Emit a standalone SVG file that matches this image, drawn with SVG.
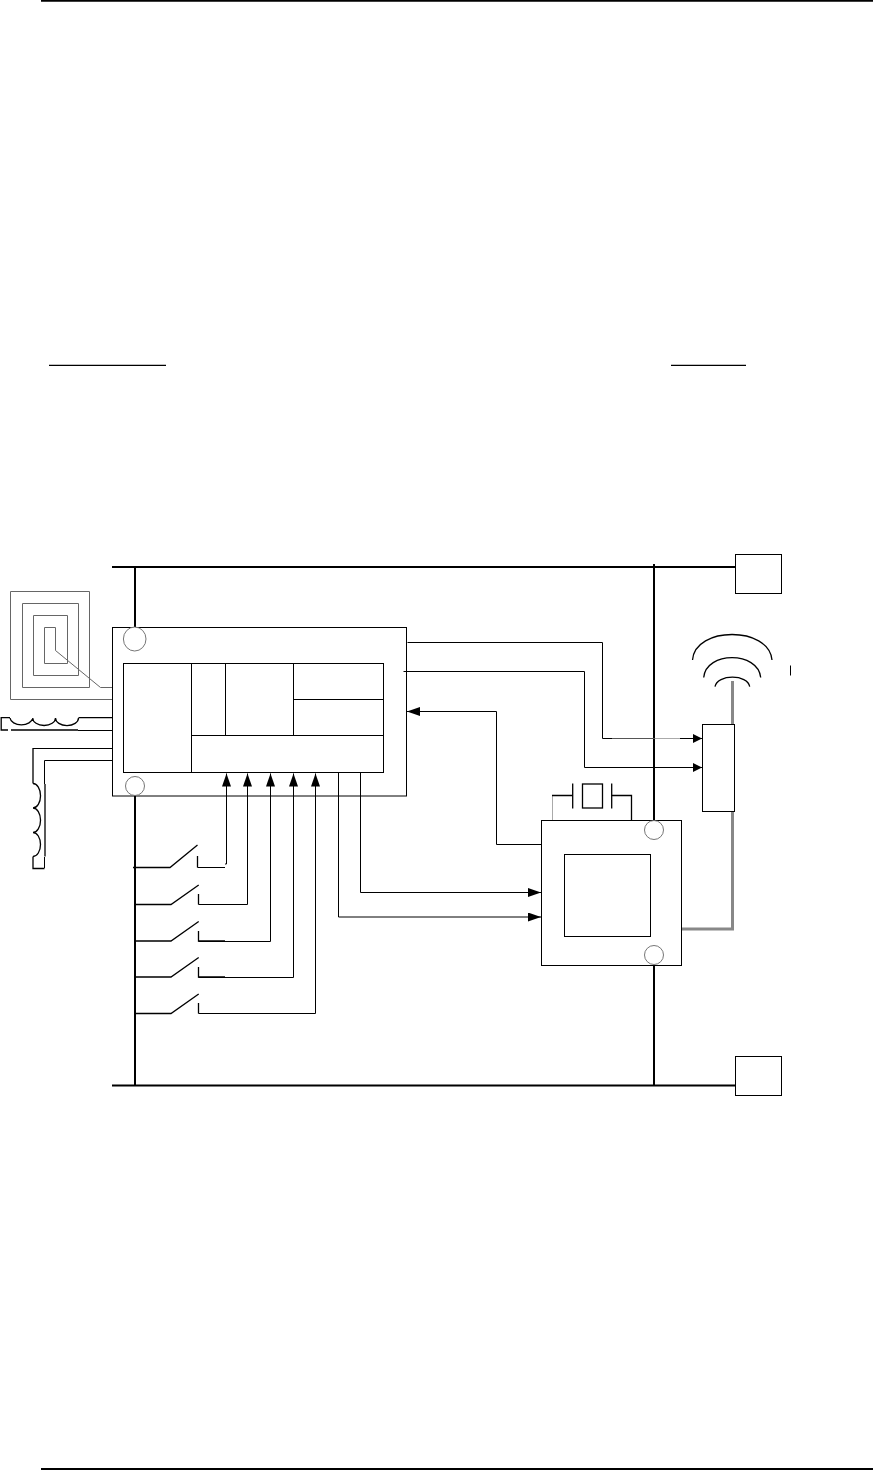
<svg xmlns="http://www.w3.org/2000/svg" width="878" height="1470" viewBox="0 0 878 1470">
<style>
.n{fill:none;stroke:#000;stroke-width:1}
.m{fill:none;stroke:#000;stroke-width:1.3}
.b{fill:none;stroke:#000;stroke-width:2}
.c{fill:#fff;stroke:#666;stroke-width:.9}
.g{fill:none;stroke:#888;stroke-width:3}
.s{fill:none;stroke:#666;stroke-width:1}
.al{marker-end:url(#al)}
.as{marker-end:url(#as)}
</style>
<defs>
<marker id="al" markerUnits="userSpaceOnUse" markerWidth="14" markerHeight="10" refX="13" refY="4.5" orient="auto"><path d="M0 0L13 4.5L0 9Z" fill="#000"/></marker>
<marker id="as" markerUnits="userSpaceOnUse" markerWidth="10" markerHeight="10" refX="9" refY="4.5" orient="auto"><path d="M0 0L9 4.5L0 9Z" fill="#000"/></marker>
</defs>
<rect width="878" height="1470" fill="#fff"/>
<g id="page-rules">
<path class="b" d="M41 .7H873M41 1469H873"/>
<path class="m" d="M49 365.3H166M671 365.3H746"/>
</g>
<g id="connectors">
<path class="b" d="M112 567H735M112 1085.5H735M135 566V628M135 796V1085.5M654 564V820M654 965V1085.5"/>
<path class="n al" d="M226.5 864V773.5"/>
<path class="n al" d="M247.5 904.5V773.5"/>
<path class="n al" d="M270.5 941.5V773.5"/>
<path class="n al" d="M293.5 977.5V773.5"/>
<path class="n al" d="M315.5 1013.5V773.5"/>
<path class="n" d="M197.5 867.5H225M225 864H226.5"/>
<path class="n" d="M198.5 904.5H247.5M198.5 941.5H270.5M198.5 977.5H293.5M198.5 1013.5H315.5"/>
<path class="n al" d="M338.5 772.5V917H541"/>
<path class="n al" d="M360.5 772.5V892.5H541"/>
<path class="n" d="M407.5 642.5H602.5V738.5H612"/>
<path d="M612 738.5H655" fill="none" stroke="#555"/>
<path d="M655 738.5H680" fill="none" stroke="#aaa"/>
<path class="n as" d="M680 738.5H702"/>
<path class="n as" d="M403.5 671.5H584.5V767.5H702"/>
<path class="n al" d="M541 844.5H496.5V711.5H407"/>
<path d="M552.5 820V796" fill="none" stroke="#aaa"/>
<path class="m" d="M552 795.5H572.5M611.5 795.5H631.5V820"/>
<path class="g" d="M682 929H732.5V811"/>
<path class="g" d="M732.5 724V681"/>
<path class="s" d="M112 699.5H10.5V591.5H89.5V687.5H22.5V603.5H78.5V675.5H33.5V615.5H67.5V663.5H44.5V627.5H55.5V650.5L100.5 687.5H112"/>
<path class="m" d="M112 717.7H78.5M10 717.7H1.2V730H8M11 730H78"/>
<path class="n" d="M78 730.5H112"/>
<path class="m" d="M10 718A11.4 7.5 0 0 0 32.7 718A11.4 7.5 0 0 0 55.5 718A11.4 7.5 0 0 0 78.5 718"/>
<path class="n" d="M112 748.5H33"/>
<path class="m" d="M33 748V783.5M33 856.5V868.5H44.5M45 784V856.5"/>
<path class="n" d="M44.5 868V857M44.5 784V760.5H112"/>
<path class="m" d="M33 783.5A7.5 12.2 0 0 1 33 808A7.5 12.2 0 0 1 33 832.5A7.5 12 0 0 1 33 856.5"/>
<path class="m" d="M692.5 660C695 626 769 626 772 660"/>
<path class="m" d="M703.7 677.5C706 651 758 651 760.7 677.5"/>
<path class="m" d="M715 686.7C717 674 748 674 749.7 686.7"/>
<path class="n" d="M790.5 665.5V675.5"/>
</g>
<g id="switches">
<path class="m" d="M133 867.5H170L197.5 845M197.5 856V867.5"/>
<path class="m" d="M135 904.5H171L198.7 885M198.5 894V904.5"/>
<path class="m" d="M135 941H171L198.7 921.5M198.5 931V941H225"/>
<path class="m" d="M135 977H171L198.7 957.5M198.5 967V977H225"/>
<path class="m" d="M135 1013.5H171L198.7 994M198.5 1003V1013.5"/>
</g>
<g id="controller">
<rect class="n" x="112.5" y="627.5" width="294" height="168.5"/>
<rect class="n" x="123.5" y="663.5" width="260" height="109"/>
<path class="n" d="M191.5 663.5V772.5M225.5 663.5V735.5M293.5 663.5V735.5M191.5 735.5H383.5M293.5 699.5H383.5"/>
</g>
<g id="terminal-top-left"><ellipse class="c" cx="134.7" cy="639" rx="11.3" ry="12"/></g>
<g id="terminal-bottom-left"><circle class="c" cx="135" cy="786" r="9.5"/></g>
<g id="transmitter">
<rect class="n" x="541.5" y="820.5" width="140" height="145"/>
<rect class="n" x="564.5" y="854.5" width="86" height="82"/>
</g>
<g id="terminal-top-right"><circle class="c" cx="654" cy="830" r="9.5"/></g>
<g id="terminal-bottom-right"><circle class="c" cx="654" cy="955" r="9.5"/></g>
<g id="crystal">
<rect class="m" x="582.5" y="784" width="20" height="24"/>
<path class="m" d="M572.7 783.5V808.5M611.7 783.5V808.5"/>
</g>
<g id="antenna-block"><rect class="n" x="702.5" y="724.5" width="32" height="87"/></g>
<g id="supply-top"><rect class="n" x="735.5" y="554.5" width="46" height="39"/></g>
<g id="supply-bottom"><rect class="n" x="735.5" y="1056.5" width="46" height="39"/></g>
</svg>
